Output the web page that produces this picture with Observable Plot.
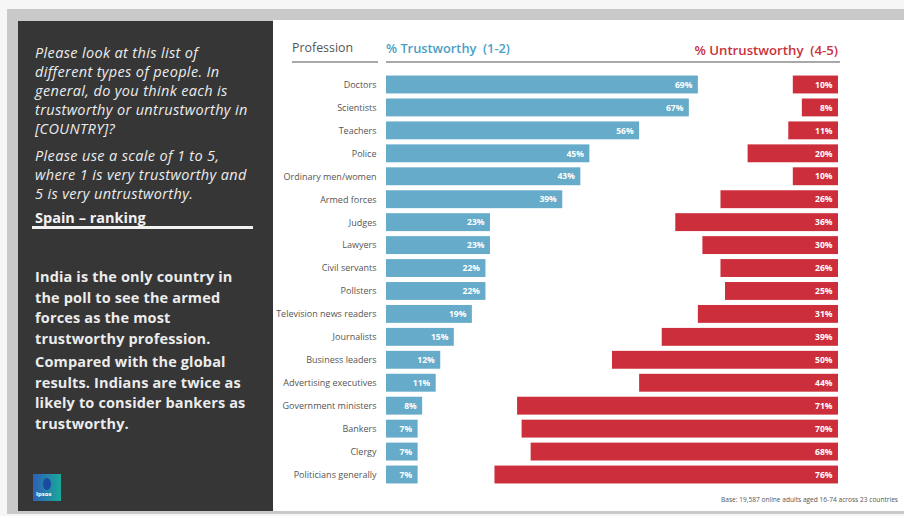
<!DOCTYPE html>
<html>
<head>
<meta charset="utf-8">
<script src="https://cdn.jsdelivr.net/npm/d3@7"></script>
<script src="https://cdn.jsdelivr.net/npm/@observablehq/plot@0.6"></script>
<style>
  html, body { margin: 0; padding: 0; }
  body { width: 904px; height: 516px; background: #f6f6f6; position: relative; overflow: hidden; font-family: "Open Sans", sans-serif; }
  #frame { position: absolute; left: 7px; top: 9px; width: 897px; height: 505px; background: #c9c9c9; }
  #panel { position: absolute; left: 18px; top: 21px; width: 255px; height: 490px; background: #363636; color: #ececec; }
  #white { position: absolute; left: 273px; top: 20px; width: 631px; height: 491px; background: #ffffff; }
  #chart { position: absolute; left: 273px; top: 20px; }
  .q { position: absolute; left: 17px; font-style: italic; font-size: 14.5px; line-height: 19px; letter-spacing: 0.35px; white-space: nowrap; }
  .b { position: absolute; left: 17px; font-weight: bold; font-size: 14.5px; line-height: 20.5px; letter-spacing: 0.15px; white-space: nowrap; }
  #hdr-prof { position: absolute; left: 292px; top: 39px; font-size: 12.4px; color: #555; }
  #hdr-trust { position: absolute; left: 386px; top: 39px; font-size: 12.8px; font-weight: 600; color: #4a9fc5; }
  #hdr-untrust { position: absolute; right: 66px; top: 41px; font-size: 13.2px; font-weight: 600; color: #c8323c; }
  .rule { position: absolute; top: 61px; height: 1.5px; background: #a8a8a8; }
  #caption { position: absolute; right: 6px; top: 495px; font-size: 6.6px; color: #555; }
  #logo { position: absolute; left: 15px; top: 453px; width: 28px; height: 27px; background: linear-gradient(90deg, #2e5fb8, #1aa99a); }
  #logo span { position: absolute; left: 3px; bottom: 3px; font-size: 6px; color: #fff; font-weight: bold; }
  #logo i { position: absolute; left: 10px; top: 4px; width: 8px; height: 12px; border-radius: 50%; background: #1a4b9e; }
</style>
</head>
<body>
<div id="frame"></div>
<div id="white"></div>
<div id="panel">
  <div class="q" style="top:22px">Please look at this list of<br>different types of people. In<br>general, do you think each is<br>trustworthy or untrustworthy in<br>[COUNTRY]?</div>
  <div class="q" style="top:125px">Please use a scale of 1 to 5,<br>where 1 is very trustworthy and<br>5 is very untrustworthy.</div>
  <div style="position:absolute; left:17px; top:187px; font-weight:bold; font-size:14.5px; color:#f2f2f2;">Spain – ranking</div>
  <div style="position:absolute; left:14px; top:205px; width:221px; height:2.5px; background:#f2f2f2;"></div>
  <div class="b" style="top:246px">India is the only country in<br>the poll to see the armed<br>forces as the most<br>trustworthy profession.</div>
  <div class="b" style="top:331px">Compared with the global<br>results. Indians are twice as<br>likely to consider bankers as<br>trustworthy.</div>
  <div id="logo"><i></i><span>Ipsos</span></div>
</div>
<div id="chart"></div>
<div id="hdr-prof">Profession</div>
<div class="rule" style="left:292px; width:86px;"></div>
<div id="hdr-trust">% Trustworthy&nbsp; (1-2)</div>
<div id="hdr-untrust">% Untrustworthy&nbsp; (4-5)</div>
<div class="rule" style="left:386px; width:454px;"></div>
<div id="caption">Base: 19,587 online adults aged 16-74 across 23 countries</div>
<script>
const professions = ["Doctors","Scientists","Teachers","Police","Ordinary men/women","Armed forces","Judges","Lawyers","Civil servants","Pollsters","Television news readers","Journalists","Business leaders","Advertising executives","Government ministers","Bankers","Clergy","Politicians generally"];
const trustworthy = [69,67,56,45,43,39,23,23,22,22,19,15,12,11,8,7,7,7];
const untrustworthy = [10,8,11,20,10,26,36,30,26,25,31,39,50,44,71,70,68,76];
const scaleMax = 100;

const data = professions.map((p, i) => ({profession: p, trust: trustworthy[i], untrust: untrustworthy[i]}));

const chart = Plot.plot({
  width: 631,
  height: 491,
  marginLeft: 113,
  marginRight: 66,
  marginTop: 50.5,
  marginBottom: 22.5,
  style: {fontFamily: "'Open Sans', sans-serif", fontSize: "9px", color: "#555", background: "transparent", overflow: "visible"},
  x: {domain: [0, scaleMax], axis: null},
  y: {domain: professions, padding: 0.22, round: false, label: null},
  marks: [
    Plot.barX(data, {x: "trust", y: "profession", fill: "#66acca"}),
    Plot.barX(data, {x1: d => scaleMax - d.untrust, x2: () => scaleMax, y: "profession", fill: "#cc2f3b"}),
    Plot.text(data, {x: "trust", y: "profession", text: d => d.trust + "%", dx: -6, textAnchor: "end", fill: "white", fontWeight: "bold", fontSize: 8.5}),
    Plot.text(data, {x: () => scaleMax, y: "profession", text: d => d.untrust + "%", dx: -6, textAnchor: "end", fill: "white", fontWeight: "bold", fontSize: 8.5}),
    Plot.axisY({tickSize: 0, tickPadding: 10, fill: "#555", fontSize: 9, label: null})
  ]
});
document.getElementById("chart").appendChild(chart);
</script>
</body>
</html>
